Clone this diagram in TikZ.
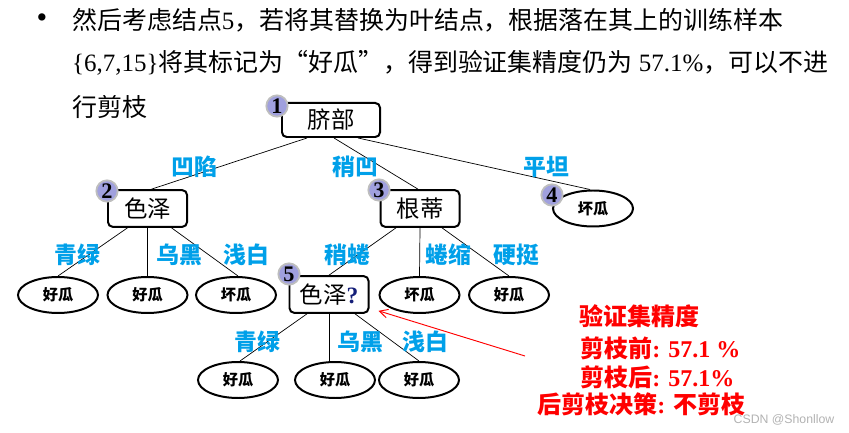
\documentclass[tikz,border=0pt]{standalone}
\usepackage{fontspec}
\setmainfont{Liberation Serif}
\newfontfamily\cjk{Noto Sans CJK SC}
\newfontfamily\wmfont{Liberation Sans}
\usetikzlibrary{arrows.meta,positioning,shapes.geometric,calc}

\definecolor{labblue}{RGB}{0,160,233}
\definecolor{badgefill}{RGB}{160,160,222}
\definecolor{badgeline}{RGB}{190,190,190}
\definecolor{qnavy}{RGB}{20,30,120}

\newcommand{\zh}[1]{{\cjk #1}}

\begin{document}
\begin{tikzpicture}[
    x=0.03cm, y=-0.03cm,
    attr/.style={draw, line width=1.7pt, rounded corners=4pt, minimum width=2.37cm, minimum height=1.1cm, inner sep=0pt, font=\cjk\fontsize{20pt}{20pt}\selectfont},
    leaf/.style={ellipse, draw, line width=1.7pt, minimum width=2.4cm, minimum height=1.08cm, inner sep=0pt, font=\cjk\bfseries\fontsize{13pt}{13pt}\selectfont},
    badge/.style={circle, fill=badgefill, draw=badgeline, line width=1.5pt, minimum size=0.64cm, inner sep=0pt, font=\bfseries\fontsize{19pt}{19pt}\selectfont},
    branch/.style={line width=0.6pt},
    lab/.style={text=labblue, font=\cjk\bfseries\fontsize{19.5pt}{19.5pt}\selectfont, inner sep=0pt},
    note/.style={text=red, font=\bfseries\fontsize{20.5pt}{20.5pt}\selectfont, anchor=west, inner sep=0pt},
    txt/.style={font=\fontsize{21.3pt}{21.3pt}\selectfont, anchor=west, inner sep=0pt},
    redarr/.style={-{Straight Barb[length=2.5mm,width=2.6mm]}, red, line width=0.8pt}
]
\useasboundingbox (0,0) rectangle (849,433);

% bullet text
\node[txt, anchor=center, font=\fontsize{26pt}{26pt}\selectfont] (bul) at (42,21) {\textbullet};
\node[txt] (l1) at (72,20) {\zh{然后考虑结点}5\zh{，若将其替换为叶结点，根据落在其上的训练样本}};
\node[txt] (l2) at (72,63) {\{6,7,15\}\zh{将其标记为“好瓜”，得到验证集精度仍为} 57.1\%\zh{，可以不进}};
\node[txt] (l3) at (72,107) {\zh{行剪枝}};

% tree
\node[attr, minimum width=2.94cm, minimum height=1.02cm] (n1) at (331,120) {脐部};
\node[attr] (n2) at (147.5,208.5) {色泽};
\node[attr] (n3) at (420,208.5) {根蒂};
\node[leaf] (n4) at (593,208.5) {坏瓜};
\node[leaf] (l21) at (58,295) {好瓜};
\node[leaf] (l22) at (147.5,295) {好瓜};
\node[leaf] (l23) at (236,295) {坏瓜};
\node[attr] (n5) at (329,294.5) {色泽{\rmfamily\bfseries\color{qnavy}?}};
\node[leaf] (l32) at (419.5,295) {坏瓜};
\node[leaf] (l33) at (509,295) {好瓜};
\node[leaf] (l51) at (238,380) {好瓜};
\node[leaf] (l52) at (335,380) {好瓜};
\node[leaf] (l53) at (419,380) {好瓜};

\draw[branch] ($(n1.south)+(-24,0)$) -- ($(n2.north)+(4,0)$);
\draw[branch] ($(n1.south)+(3,0)$) -- ($(n3.north)+(-2,0)$);
\draw[branch] ($(n1.south)+(27,0)$) -- ($(n4.north)+(-3,0)$);
\draw[branch] ($(n2.south)+(-20,0)$) -- (l21.north);
\draw[branch] (n2.south) -- (l22.north);
\draw[branch] ($(n2.south)+(24,0)$) -- ($(l23.north)+(2,0)$);
\draw[branch] ($(n3.south)+(-24,0)$) -- (n5.north);
\draw[branch] (n3.south) -- (l32.north);
\draw[branch] ($(n3.south)+(22,0)$) -- (l33.north);
\draw[branch] ($(n5.south)+(-22,0)$) -- ($(l51.north)+(2,0)$);
\draw[branch] (n5.south) -- ($(l52.north)+(-6,0)$);
\draw[branch] ($(n5.south)+(26,0)$) -- (l53.north);

% badges
\node[badge] (b1) at (277,106) {1};
\node[badge] (b2) at (107,191) {2};
\node[badge] (b3) at (379,190) {3};
\node[badge] (b4) at (552,195) {4};
\node[badge] (b5) at (289,274) {5};

% branch labels
\node[lab] (t1) at (194,167) {凹陷};
\node[lab] (t2) at (355,167) {稍凹};
\node[lab] (t3) at (546,167) {平坦};
\node[lab] (t4) at (77,255) {青绿};
\node[lab] (t5) at (179,255) {乌黑};
\node[lab] (t6) at (246,255) {浅白};
\node[lab] (t7) at (347,255) {稍蜷};
\node[lab] (t8) at (448,255) {蜷缩};
\node[lab] (t9) at (516,255) {硬挺};
\node[lab] (t10) at (257,342) {青绿};
\node[lab] (t11) at (360,342) {乌黑};
\node[lab] (t12) at (425,342) {浅白};

% precision notes
\node[note] (p1) at (579,316) {\zh{验证集精度}};
\node[note] (p2) at (580,348) {\zh{剪枝前}: 57.1 \%};
\node[note] (p3) at (580,377) {\zh{剪枝后}: 57.1\%};
\node[note] (p4) at (537,404) {\zh{后剪枝决策}: \zh{不剪枝}};
\coordinate (arrtail) at (525,356);
\draw[redarr] (arrtail) -- ($(n5.south east)+(9,-3)$);

\node[text=gray!60, font=\wmfont\fontsize{10.5pt}{10.5pt}\selectfont, inner sep=0pt] (wm) at (784,420) {CSDN @Shonllow};
\end{tikzpicture}
\end{document}
